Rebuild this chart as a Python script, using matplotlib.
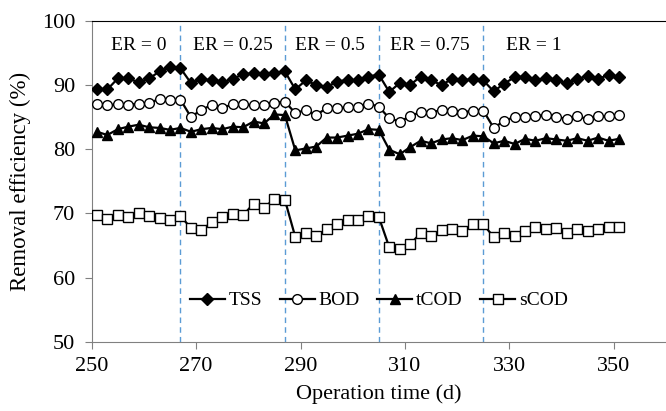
import numpy as np
import matplotlib
matplotlib.use('Agg')
import matplotlib.pyplot as plt

plt.rcParams['font.family'] = ['Liberation Serif', 'DejaVu Serif']

# operation days (every 2 days)
days = list(range(251, 352, 2))

tss = [89.3, 89.3, 91.0, 91.0, 90.4, 91.0, 92.1, 92.8, 92.6,
       90.3, 90.9, 90.7, 90.4, 90.9, 91.7, 91.8, 91.7, 91.8, 92.1,
       89.3, 90.7, 90.0, 89.7, 90.5, 90.8, 90.7, 91.3, 91.6,
       88.9, 90.3, 90.0, 91.3, 90.7, 90.0, 90.9, 90.7, 90.9, 90.7,
       89.0, 90.2, 91.2, 91.3, 90.7, 91.0, 90.7, 90.3, 90.9, 91.4, 90.9, 91.6, 91.2]

bod = [87.0, 86.8, 87.0, 86.9, 87.1, 87.2, 87.8, 87.6, 87.7,
       85.0, 86.1, 86.9, 86.4, 87.0, 87.0, 86.8, 86.9, 87.2, 87.4,
       85.6, 86.1, 85.3, 86.4, 86.4, 86.5, 86.5, 87.1, 86.6,
       84.8, 84.3, 85.1, 85.8, 85.7, 86.1, 86.0, 85.7, 86.0, 86.0,
       83.3, 84.4, 85.0, 85.0, 85.2, 85.3, 85.0, 84.7, 85.1, 84.7, 85.2, 85.1, 85.3]

tcod = [82.7, 82.2, 83.1, 83.5, 83.8, 83.4, 83.3, 83.0, 83.3,
        82.7, 83.1, 83.3, 83.1, 83.5, 83.4, 84.3, 84.0, 85.4, 85.3,
        79.8, 80.1, 80.4, 81.8, 81.8, 82.1, 82.4, 83.1, 83.0,
        79.9, 79.2, 80.3, 81.3, 80.9, 81.5, 81.7, 81.4, 82.1, 82.0,
        80.9, 81.3, 80.8, 81.6, 81.3, 81.7, 81.5, 81.3, 81.7, 81.3, 81.8, 81.3, 81.6]

scod = [69.7, 69.1, 69.7, 69.4, 70.1, 69.6, 69.2, 68.9, 69.6,
        67.7, 67.4, 68.6, 69.5, 69.9, 69.7, 71.5, 70.9, 72.2, 72.1,
        66.3, 67.0, 66.5, 67.5, 68.4, 68.9, 68.9, 69.6, 69.4,
        64.7, 64.5, 65.2, 66.9, 66.4, 67.4, 67.6, 67.3, 68.3, 68.3,
        66.3, 67.0, 66.5, 67.3, 67.8, 67.5, 67.7, 67.0, 67.6, 67.3, 67.5, 67.8, 67.8]

# phase boundaries and labels
er_lines = [267, 287, 305, 325]
er_labels = ['ER = 0', 'ER = 0.25', 'ER = 0.5', 'ER = 0.75', 'ER = 1']
er_label_x = [259, 277, 295.7, 314.7, 334.7]

fig = plt.figure(figsize=(6.66, 4.11), dpi=100)
ax = fig.add_axes([0.1377, 0.1686, 0.8623, 0.781])

for x in er_lines:
    ax.axvline(x, color='#5B9BD5', linestyle=(0, (4, 3)), linewidth=1.0, zorder=1)

ax.plot(days, tss, color='black', lw=1.6, marker='D', ms=6, mfc='black', mec='black', label='TSS', zorder=3)
ax.plot(days, bod, color='black', lw=1.6, marker='o', ms=7, mfc='white', mec='black', mew=1.0, label='BOD', zorder=3)
ax.plot(days, tcod, color='black', lw=1.6, marker='^', ms=7.5, mfc='black', mec='black', label='tCOD', zorder=3)
ax.plot(days, scod, color='black', lw=1.6, marker='s', ms=7, mfc='white', mec='black', mew=1.0, label='sCOD', zorder=3)

for lab, x in zip(er_labels, er_label_x):
    ax.text(x, 96.2, lab, ha='center', va='center', fontsize=14)

ax.set_xlim(250, 360)
ax.set_ylim(50, 100)
ax.set_xticks(range(250, 351, 20))
ax.set_yticks(range(50, 101, 10))
ax.tick_params(labelsize=16, length=5, color='#808080', direction='out')
ax.tick_params(axis='x', pad=6)
ax.tick_params(axis='y', pad=7)
ax.set_xlabel('Operation time (d)', fontsize=16, labelpad=6)
ax.set_ylabel('Removal efficiency (%)', fontsize=16.5, labelpad=8)

ax.spines['left'].set_color('#808080')
ax.spines['bottom'].set_color('#808080')
ax.spines['top'].set_color('black')
ax.spines['right'].set_visible(False)

ax.legend(loc='center', bbox_to_anchor=(0.5, 0.128), ncol=4, frameon=False,
          fontsize=14, handlelength=1.8, handletextpad=0.2, columnspacing=0.9,
          borderaxespad=0)

fig.savefig('out.png', dpi=100)
